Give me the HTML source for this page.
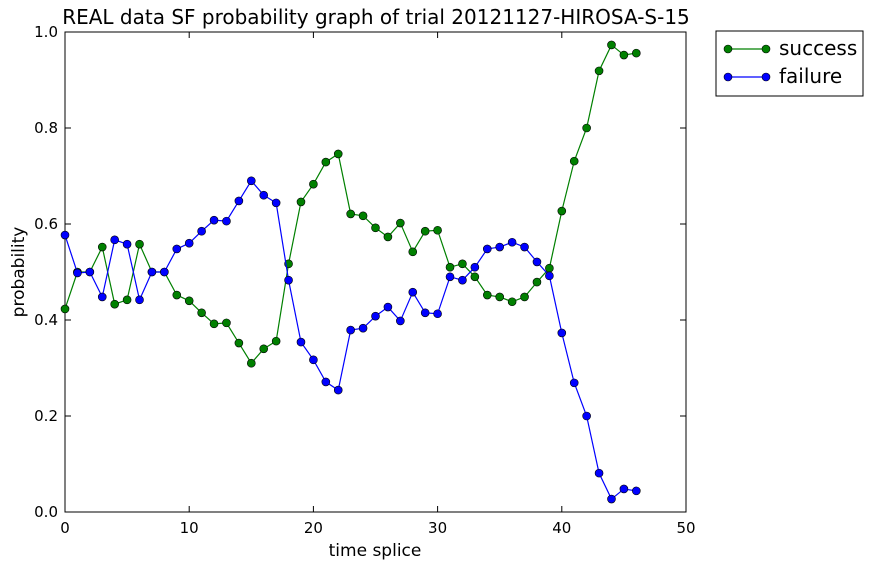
<!DOCTYPE html>
<html><head><meta charset="utf-8"><style>
html,body{margin:0;padding:0;background:#fff;}
svg text{font-family:"DejaVu Sans","Liberation Sans",sans-serif;fill:#000;}
</style></head><body>
<svg id="chart" width="874" height="570" xmlns="http://www.w3.org/2000/svg"></svg>
<script>
const xTicks=[0,10,20,30,40,50];
const yTicks=[0.0,0.2,0.4,0.6,0.8,1.0];
const yTickLabels=["0.0","0.2","0.4","0.6","0.8","1.0"];
const success=[0.423,0.5,0.5,0.552,0.433,0.442,0.558,0.5,0.5,0.452,0.44,0.415,0.392,0.394,0.352,0.31,0.34,0.356,0.517,0.646,0.683,0.729,0.746,0.621,0.617,0.592,0.573,0.602,0.542,0.585,0.587,0.51,0.517,0.49,0.452,0.448,0.438,0.448,0.479,0.508,0.627,0.731,0.8,0.919,0.973,0.952,0.956];
const failure=[0.577,0.498,0.5,0.448,0.567,0.558,0.442,0.5,0.5,0.548,0.56,0.585,0.608,0.606,0.648,0.69,0.66,0.644,0.483,0.354,0.317,0.271,0.254,0.379,0.383,0.408,0.427,0.398,0.458,0.415,0.413,0.49,0.483,0.51,0.548,0.552,0.562,0.552,0.521,0.492,0.373,0.269,0.2,0.081,0.027,0.048,0.044];

const L=65,R=686,T=32,B=512;
const sx=v=>L+(v-0)/(50-0)*(R-L);
const sy=v=>B-(v-0)/(1-0)*(B-T);
const svg=document.getElementById('chart');
const NS='http://www.w3.org/2000/svg';
function mk(tag,attrs,parent){const e=document.createElementNS(NS,tag);for(const k in attrs)e.setAttribute(k,attrs[k]);(parent||svg).appendChild(e);return e;}

const frame=mk('rect',{x:L,y:T,width:R-L,height:B-T,fill:'none',stroke:'#000','stroke-width':1});



xTicks.forEach(v=>{
  const x=sx(v);
  const t1=mk('line',{x1:x,y1:B,x2:x,y2:B-6,stroke:'#000'});
  
  
  const t2=mk('line',{x1:x,y1:T,x2:x,y2:T+6,stroke:'#000'});
  
  
  const tx=mk('text',{x:x,y:B+21,'text-anchor':'middle','font-size':15});
  tx.textContent=String(v);
  
  
});
yTicks.forEach((v,i)=>{
  const y=sy(v);
  const t1=mk('line',{x1:L,y1:y,x2:L+6,y2:y,stroke:'#000'});
  
  
  const t2=mk('line',{x1:R,y1:y,x2:R-6,y2:y,stroke:'#000'});
  
  
  const tx=mk('text',{x:L-7,y:y+5,'text-anchor':'end','font-size':15});
  tx.textContent=yTickLabels[i];
  
  
});

function series(vals,color,name){
  const g=mk('g',{});
  
  
  const pts=vals.map((v,i)=>sx(i)+','+sy(v)).join(' ');
  const pl=mk('polyline',{points:pts,fill:'none',stroke:color,'stroke-width':1.2},g);
  
  
  vals.forEach((v,i)=>{
    const c=mk('circle',{cx:sx(i),cy:sy(v),r:4,fill:color,stroke:'#000','stroke-width':0.6},g);
    
    
  });
}
series(success,'#008000','success');
series(failure,'#0000ff','failure');

const title=mk('text',{x:376,y:24,'text-anchor':'middle','font-size':20});
title.textContent='REAL data SF probability graph of trial 20121127-HIROSA-S-15';


const xl=mk('text',{x:375,y:556,'text-anchor':'middle','font-size':17});
xl.textContent='time splice';


const yl=mk('text',{x:24,y:272,'text-anchor':'middle','font-size':17,transform:'rotate(-90 24 272)'});
yl.textContent='probability';



const lg=mk('g',{});


mk('rect',{x:716,y:31,width:147,height:65,fill:'#fff',stroke:'#000'},lg);
[['success','#008000',49],['failure','#0000ff',77]].forEach(([n,c,y])=>{
  const e=mk('g',{},lg);
  
  
  mk('line',{x1:725,y1:y,x2:769,y2:y,stroke:c,'stroke-width':1.2},e);
  mk('circle',{cx:728,cy:y,r:4,fill:c,stroke:'#000','stroke-width':0.6},e);
  mk('circle',{cx:766,cy:y,r:4,fill:c,stroke:'#000','stroke-width':0.6},e);
  const t=mk('text',{x:779,y:y+6,'font-size':20},e);
  t.textContent=n;
});
</script>
</body></html>
